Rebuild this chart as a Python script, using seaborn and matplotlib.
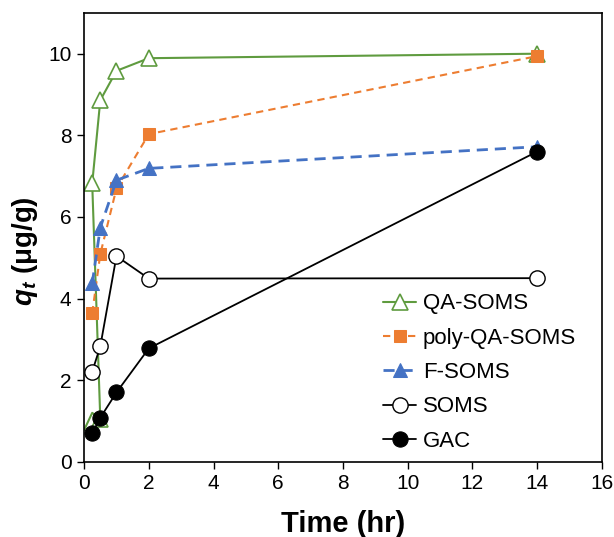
import matplotlib
matplotlib.use("Agg")
import matplotlib.pyplot as plt
import seaborn as sns
import numpy as np

sns.set_style("white")
plt.rcParams['font.family'] = 'sans-serif'
plt.rcParams['font.sans-serif'] = ['Liberation Sans']
plt.rcParams['mathtext.fontset'] = 'custom'
plt.rcParams['mathtext.bfit'] = 'Liberation Sans:bold:italic'
plt.rcParams['mathtext.rm'] = 'Liberation Sans'
plt.rcParams['text.color'] = 'black'
plt.rcParams['axes.labelcolor'] = 'black'
plt.rcParams['xtick.color'] = 'black'
plt.rcParams['ytick.color'] = 'black'

# data
qa_x = [0, 0.25, 0.5, 0.25, 0.5, 1, 2, 14]
qa_y = [0.78, 1.2, 1.05, 6.82, 8.86, 9.58, 9.89, 10.0]
poly_x = [0.25, 0.5, 1, 2, 14]
poly_y = [3.64, 5.09, 6.70, 8.03, 9.94]
f_x = [0.25, 0.5, 1, 2, 14]
f_y = [4.37, 5.74, 6.90, 7.19, 7.72]
soms_x = [0.25, 0.5, 1, 2, 14]
soms_y = [2.21, 2.83, 5.04, 4.49, 4.50]
gac_x = [0.25, 0.5, 1, 2, 14]
gac_y = [0.70, 1.08, 1.70, 2.78, 7.60]
labels = ["QA-SOMS", "poly-QA-SOMS", "F-SOMS", "SOMS", "GAC"]

green = '#5f9b3f'
orange = '#ED7D31'
blue = '#4472C4'

fig = plt.figure(figsize=(6.14, 5.37), dpi=100)
ax = fig.add_axes([0.137, 0.140, 0.843, 0.836])

sns.lineplot(x=qa_x, y=qa_y, sort=False, estimator=None, ax=ax, color=green, lw=1.5,
             marker='^', markersize=11, markerfacecolor='white', markeredgecolor=green,
             markeredgewidth=1.2, markevery=[2, 3, 4, 5, 6, 7], label=labels[0])
sns.lineplot(x=poly_x, y=poly_y, sort=False, estimator=None, ax=ax, color=orange, lw=1.5,
             linestyle=(0, (3.5, 2.5)), marker='s', markersize=9, markerfacecolor=orange,
             markeredgecolor=orange, label=labels[1])
sns.lineplot(x=f_x, y=f_y, sort=False, estimator=None, ax=ax, color=blue, lw=2,
             linestyle=(0, (4, 2.5)), marker='^', markersize=10, markerfacecolor=blue,
             markeredgecolor=blue, label=labels[2])
sns.lineplot(x=soms_x, y=soms_y, sort=False, estimator=None, ax=ax, color='black', lw=1.3,
             marker='o', markersize=11, markerfacecolor='white', markeredgecolor='black',
             markeredgewidth=1.0, label=labels[3])
sns.lineplot(x=gac_x, y=gac_y, sort=False, estimator=None, ax=ax, color='black', lw=1.3,
             marker='o', markersize=11, markerfacecolor='black', markeredgecolor='black',
             label=labels[4])

ax.set_xlim(0, 16)
ax.set_ylim(0, 11)
ax.set_xticks(np.arange(0, 17, 2))
ax.set_yticks(np.arange(0, 11, 2))
ax.tick_params(axis='both', direction='out', length=5, width=1, labelsize=15, color='black',
               labelcolor='black', bottom=True, left=True, pad=4)
for s in ax.spines.values():
    s.set_color('black')
    s.set_linewidth(1.2)

ax.set_xlabel("Time (hr)", fontsize=21, fontweight='bold', labelpad=12)
ax.set_ylabel(r"$\mathbfit{q_t}$ (μg/g)", fontsize=20, fontweight='bold')
ax.yaxis.set_label_coords(-0.085, 0.47)

leg = ax.legend(loc='lower right', bbox_to_anchor=(0.97, 0.0), frameon=False, fontsize=16,
                handlelength=1.5, handletextpad=0.3, labelspacing=0.6, borderaxespad=0.05)

fig.savefig("out.png", dpi=100)
